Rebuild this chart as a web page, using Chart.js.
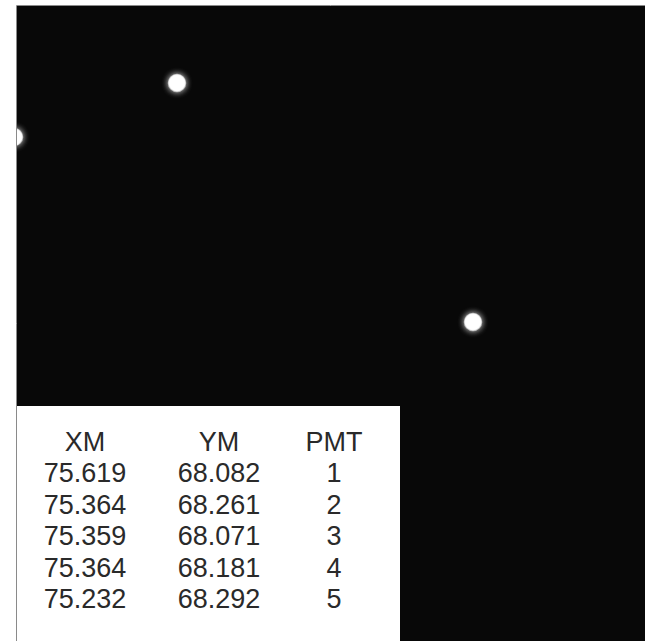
<!DOCTYPE html>
<html>
<head>
<meta charset="utf-8">
<script src="https://cdn.jsdelivr.net/npm/chart.js@4/dist/chart.umd.min.js"></script>
<style>
  html, body { margin: 0; padding: 0; background: #fff; overflow: hidden; }
  #wrap { position: relative; width: 645px; height: 641px; overflow: hidden; }
  #spots { position: absolute; left: 0; top: 0; }
  #table {
    position: absolute; left: 17px; top: 406px; width: 383px; height: 235px;
    background: #fff; font-family: "Liberation Sans", Arial, sans-serif;
    font-size: 27px; color: #2a2a2a;
  }
  .row { position: absolute; left: 0; width: 100%; height: 31.4px; line-height: 31.4px; }
  .cell { position: absolute; width: 120px; text-align: center; }
</style>
</head>
<body>
<div id="wrap">
  <canvas id="spots" width="645" height="641"></canvas>
  <div id="table"></div>
</div>
<script>
// spot positions (image pixels inside the dark frame)
const spotX = [160, -3, 456];
const spotY = [77, 131, 316];

// table contents
const headers = ['XM', 'YM', 'PMT'];
const xm = ['75.619', '75.364', '75.359', '75.364', '75.232'];
const ym = ['68.082', '68.261', '68.071', '68.181', '68.292'];
const pmt = ['1', '2', '3', '4', '5'];

// dark frame background + thin grey edge
const frame = {
    id: 'frame',
    beforeDraw(chart) {
        const { ctx, chartArea: a } = chart;
        ctx.save();
        ctx.fillStyle = '#080808';
        ctx.fillRect(a.left, a.top, a.right - a.left, a.bottom - a.top);
        ctx.strokeStyle = '#8a8a8a';
        ctx.lineWidth = 1;
        ctx.beginPath();
        ctx.moveTo(a.left - 0.5, a.bottom);
        ctx.lineTo(a.left - 0.5, a.top - 0.5);
        ctx.lineTo(a.right, a.top - 0.5);
        ctx.stroke();
        ctx.restore();
    }
};

// soft glow around the spots
const glow = {
    id: 'glow',
    beforeDatasetsDraw(chart) {
        chart.ctx.save();
        chart.ctx.shadowColor = 'rgba(255,255,255,0.9)';
        chart.ctx.shadowBlur = 6;
    },
    afterDatasetsDraw(chart) {
        chart.ctx.restore();
    }
};

new Chart(document.getElementById('spots'), {
    type: 'scatter',
    data: {
        datasets: [{
            data: spotX.map((x, i) => ({ x: x, y: spotY[i] })),
            pointRadius: 8.5,
            pointBackgroundColor: '#ffffff',
            pointBorderColor: 'rgba(240,240,240,0.6)',
            pointBorderWidth: 1.5,
            clip: 0
        }]
    },
    options: {
        responsive: false,
        animation: false,
        events: [],
        layout: { autoPadding: false, padding: { left: 17, top: 6, right: 0, bottom: 0 } },
        plugins: { legend: { display: false }, tooltip: { enabled: false } },
        scales: {
            x: { type: 'linear', min: 0, max: 628, display: false },
            y: { type: 'linear', min: 0, max: 635, reverse: true, display: false }
        }
    },
    plugins: [frame, glow]
});

// build the table overlay
const table = document.getElementById('table');
const colCenters = [68, 202, 317];
const rows = [headers].concat(xm.map((v, i) => [v, ym[i], pmt[i]]));
rows.forEach((r, i) => {
    const row = document.createElement('div');
    row.className = 'row';
    row.style.top = (21 + i * 31.4) + 'px';
    r.forEach((txt, j) => {
        const c = document.createElement('span');
        c.className = 'cell';
        c.style.left = (colCenters[j] - 60) + 'px';
        c.textContent = txt;
        row.appendChild(c);
    });
    table.appendChild(row);
});
</script>
</body>
</html>
